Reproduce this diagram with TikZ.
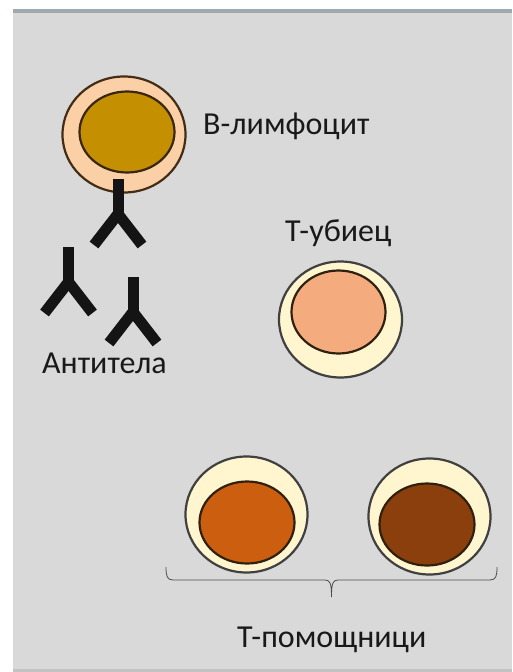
\documentclass[tikz,border=0pt]{standalone}
\usepackage{fontspec}
\setmainfont{Carlito}
\usetikzlibrary{shapes.geometric}
\definecolor{panel}{HTML}{D9D9D9}
\definecolor{topbar}{HTML}{9FA9AE}
\definecolor{peach}{HTML}{FBD0A6}
\definecolor{cream}{HTML}{FFF6D0}
\definecolor{gold}{HTML}{C48F00}
\definecolor{salmon}{HTML}{F4AB7E}
\definecolor{orangebrown}{HTML}{CC5F0F}
\definecolor{darkbrown}{HTML}{8A3F0C}
\tikzset{
  cellwall/.style={ellipse,draw=#1,line width=2.2pt,inner sep=0pt,outer sep=0pt},
  label/.style={inner sep=0pt,anchor=base west,font=\fontsize{32}{36}\selectfont,text=black!90},
  arm/.style={draw=black!92,line width=11pt,line cap=butt},
  pics/antibody/.style={code={
    \draw[arm] (0,-36) -- (0,2);
    \draw[arm] (0,-1) -- (-24,30);
    \draw[arm] (0,-1) -- (24,30);
  }}
}
\begin{document}
\begin{tikzpicture}[x=1pt,y=-1pt]
\useasboundingbox (0,0) rectangle (512,672);
\fill[white] (0,0) rectangle (512,672);
\fill[panel] (13,12) rectangle (512,672);
\fill[topbar] (13,9) rectangle (512,13);
\fill[panel!90!black] (13,669) rectangle (512,672);

% B lymphocyte
\node[cellwall={black!65!brown},fill=peach,minimum width=123pt,minimum height=116pt] (bcell) at (124,134.5) {};
\node[cellwall={black!70!brown},fill=gold,minimum width=95pt,minimum height=81pt] (bnuc) at (127,132) {};

% Free and attached antibodies
\pic at (118,215) {antibody};
\pic at (68.5,283) {antibody};
\pic at (133,313) {antibody};

% Killer T cell
\node[cellwall={black!75},fill=cream,minimum width=123pt,minimum height=116pt] (kcell) at (340.5,319.5) {};
\node[cellwall={black!75!brown},fill=salmon,minimum width=94pt,minimum height=83pt] (knuc) at (338.5,312) {};

% Helper T cells
\node[cellwall={black!75},fill=cream,minimum width=122pt,minimum height=116pt] (hcella) at (246.5,514.5) {};
\node[cellwall={black!75!brown},fill=orangebrown,minimum width=95pt,minimum height=82pt] (hnuca) at (247,522.5) {};
\node[cellwall={black!75},fill=cream,minimum width=122pt,minimum height=116pt] (hcellb) at (429.5,516.5) {};
\node[cellwall={black!75!brown},fill=darkbrown,minimum width=95pt,minimum height=82pt] (hnucb) at (427,524.5) {};

% Brace below the helper cells
\coordinate (bl) at (166,567);
\coordinate (br) at (497,567);
\coordinate (btip) at (331.5,597);
\draw[black!70,line width=0.8pt]
  (bl) .. controls (166,576) and (167,580) .. (173,580) -- (325,580)
  .. controls (330,580) and (331.5,583) .. (btip)
  .. controls (331.5,583) and (333,580) .. (338,580) -- (490,580)
  .. controls (496,580) and (497,576) .. (br);

% Labels
\node[label] (tb) at (203,134) {В-лимфоцит};
\node[label] (tk) at (285,241) {Т-убиец};
\node[label] (ta) at (42,373) {Антитела};
\node[label] (th) at (237,647) {Т-помощници};
\end{tikzpicture}
\end{document}
